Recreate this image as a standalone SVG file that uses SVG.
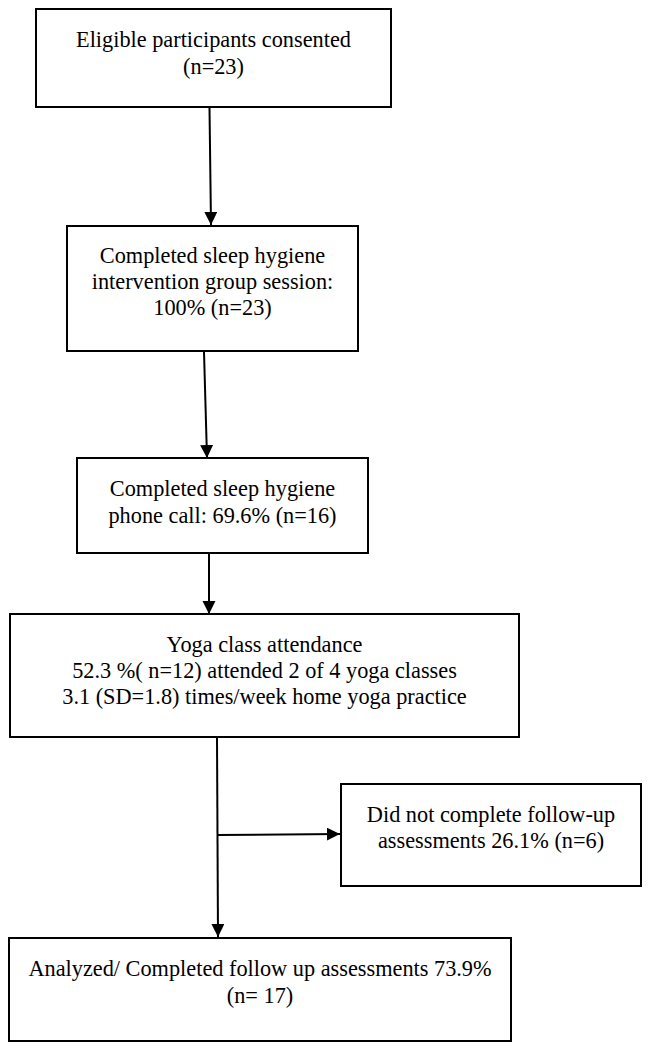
<svg xmlns="http://www.w3.org/2000/svg" width="649" height="1050" viewBox="0 0 649 1050">
  <style>
    .box { fill: #ffffff; stroke: #000000; stroke-width: 2; }
    .lbl { font-family: "Liberation Serif", "Times New Roman", serif; font-size: 22.3px; fill: #000000; text-anchor: middle; }
    .conn { stroke: #000000; stroke-width: 2; fill: none; marker-end: url(#arr); }
  </style>
  <defs>
    <marker id="arr" markerUnits="userSpaceOnUse" markerWidth="14" markerHeight="14" refX="13" refY="6.5" orient="auto">
      <path d="M0,0 L13,6.5 L0,13 Z" fill="#000000"/>
    </marker>
  </defs>
  <rect width="649" height="1050" fill="#ffffff"/>

  <g id="n1">
    <rect class="box" x="36" y="9" width="355" height="98"/>
    <text class="lbl" x="213.5" y="47">Eligible participants consented</text>
    <text class="lbl" x="213.5" y="74">(n=23)</text>
  </g>
  <g id="n2">
    <rect class="box" x="67" y="226" width="291" height="125"/>
    <text class="lbl" x="212.5" y="263">Completed sleep hygiene</text>
    <text class="lbl" x="212.5" y="289">intervention group session:</text>
    <text class="lbl" x="212.5" y="315">100% (n=23)</text>
  </g>
  <g id="n3">
    <rect class="box" x="77" y="458" width="291" height="95"/>
    <text class="lbl" x="222.5" y="496">Completed sleep hygiene</text>
    <text class="lbl" x="222.5" y="523">phone call: 69.6% (n=16)</text>
  </g>
  <g id="n4">
    <rect class="box" x="10" y="614" width="509" height="123"/>
    <text class="lbl" x="264.5" y="652">Yoga class attendance</text>
    <text class="lbl" x="264.5" y="678">52.3 %( n=12) attended 2 of 4 yoga classes</text>
    <text class="lbl" x="264.5" y="704">3.1 (SD=1.8) times/week home yoga practice</text>
  </g>
  <g id="n5">
    <rect class="box" x="341" y="784" width="300" height="102"/>
    <text class="lbl" x="491" y="822">Did not complete follow-up</text>
    <text class="lbl" x="491" y="848">assessments 26.1% (n=6)</text>
  </g>
  <g id="n6">
    <rect class="box" x="9" y="938" width="502" height="103"/>
    <text class="lbl" x="260" y="976">Analyzed/ Completed follow up assessments 73.9%</text>
    <text class="lbl" x="260" y="1003">(n= 17)</text>
  </g>

  <g id="connectors">
    <line class="conn" x1="209.5" y1="108" x2="211" y2="225"/>
    <line class="conn" x1="204" y1="352" x2="207" y2="458"/>
    <line class="conn" x1="209" y1="554" x2="209" y2="614"/>
    <line class="conn" x1="217" y1="738" x2="218" y2="937"/>
    <line class="conn" x1="217" y1="835" x2="340" y2="834"/>
  </g>
</svg>
